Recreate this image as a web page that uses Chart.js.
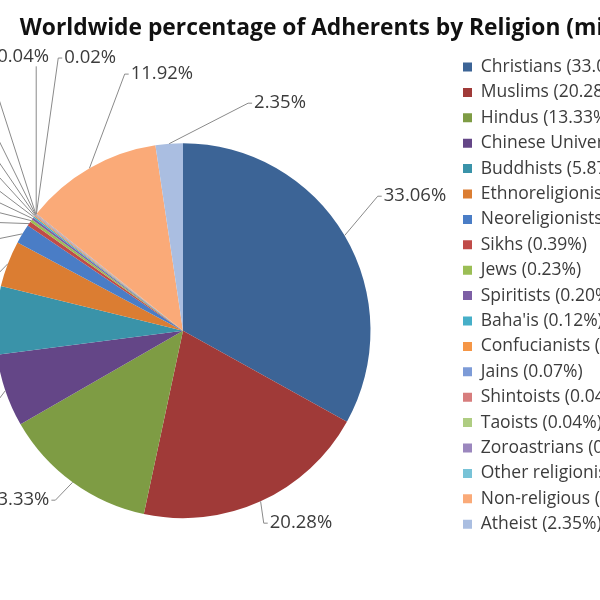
<!DOCTYPE html>
<html>
<head>
<meta charset="utf-8">
<title>Worldwide percentage of Adherents by Religion</title>
<script src="https://cdn.jsdelivr.net/npm/chart.js@4.4.1/dist/chart.umd.min.js"></script>
<style>
  html, body { margin: 0; padding: 0; background: #fff; width: 600px; height: 600px; overflow: hidden; }
  /* the reference is a crop of a wider chart, so the canvas is shifted left */
  #wrap { position: absolute; left: -150px; top: 0; }
</style>
</head>
<body>
<div id="wrap"><canvas id="chart" width="835" height="611"></canvas></div>
<script>
const religions = [
  'Christians', 'Muslims', 'Hindus', 'Chinese Universists', 'Buddhists',
  'Ethnoreligionists', 'Neoreligionists', 'Sikhs', 'Jews', 'Spiritists',
  "Baha'is", 'Confucianists', 'Jains', 'Shintoists', 'Taoists',
  'Zoroastrians', 'Other religionists', 'Non-religious', 'Atheist'
];

const shares = [
  33.06, 20.28, 13.33, 6.27, 5.87,
  3.97, 1.68, 0.39, 0.23, 0.20,
  0.12, 0.10, 0.07, 0.04, 0.04,
  0.04, 0.02, 11.92, 2.35
];

const sliceColors = [
  '#3c6496', '#a03a38', '#7e9c44', '#644687', '#3a93a9',
  '#db7d32', '#4a7dc6', '#c04b48', '#9bbe55', '#7d5fa5',
  '#46afc8', '#f59646', '#7d9bd7', '#d77d7d', '#afcd82',
  '#9b87be', '#78c3d7', '#faaa78', '#aabee1'
];

// where each data label sits: [degrees clockwise from 12 o'clock, distance in pie radii]
const labelSpots = [
  [59.9, 1.430], [148.5, 1.204], [224.2, 1.261], [249.7, 1.297], [272.5, 1.297],
  [281.3, 1.240], [292.1, 1.284], [295.9, 1.323], [298.2, 1.356], [300.5, 1.391],
  [303.1, 1.420], [305.9, 1.468], [308.7, 1.523], [312.5, 1.614], [318.6, 1.797],
  [329.7, 1.690], [341.2, 1.536], [355.3, 1.373], [23.1, 1.319]
];

const FONT = '"Open Sans", Lato, sans-serif';
const LABEL_SIZE = 18.5;

// Excel style outside labels with leader lines
const leaderLabels = {
  id: 'leaderLabels',
  afterDatasetsDraw(chart) {
    const ctx = chart.ctx;
    const arcs = chart.getDatasetMeta(0).data;
    ctx.save();
    ctx.font = LABEL_SIZE + 'px ' + FONT;
    ctx.lineWidth = 1;
    ctx.strokeStyle = '#8a8a8a';
    ctx.fillStyle = '#3c3c3c';
    ctx.textAlign = 'center';
    ctx.textBaseline = 'middle';

    arcs.forEach((arc, i) => {
      const { x, y, startAngle, endAngle, outerRadius } =
        arc.getProps(['x', 'y', 'startAngle', 'endAngle', 'outerRadius'], true);
      const mid = (startAngle + endAngle) / 2;
      const ex = x + outerRadius * Math.cos(mid);
      const ey = y + outerRadius * Math.sin(mid);

      const [deg, dist] = labelSpots[i];
      const a = (deg - 90) * Math.PI / 180;
      const cx = x + dist * outerRadius * Math.cos(a);
      const cy = y + dist * outerRadius * Math.sin(a);

      const text = shares[i].toFixed(2) + '%';
      const half = ctx.measureText(text).width / 2;
      const left = cx - half, right = cx + half;

      ctx.beginPath();
      ctx.moveTo(ex, ey);
      if (ex >= left && ex <= right) {
        ctx.lineTo(ex, ey > cy ? cy + LABEL_SIZE / 2 : cy - LABEL_SIZE / 2);
      } else if (cx > ex) {
        ctx.lineTo(left - 6, cy);
        ctx.lineTo(left - 2, cy);
      } else {
        ctx.lineTo(right + 6, cy);
        ctx.lineTo(right + 2, cy);
      }
      ctx.stroke();
      ctx.fillText(text, cx, cy);
    });
    ctx.restore();
  }
};

new Chart(document.getElementById('chart'), {
  type: 'pie',
  data: {
    labels: religions,
    datasets: [{
      data: shares,
      backgroundColor: sliceColors,
      borderWidth: 0,
      radius: 187.5
    }]
  },
  options: {
    responsive: false,
    animation: false,
    layout: { padding: { left: 60.9, right: 0, top: 0, bottom: 0 } },
    plugins: {
      title: {
        display: true,
        text: 'Worldwide percentage of Adherents by Religion (mid-2005)',
        align: 'end',
        color: '#111111',
        font: { family: FONT, size: 22.8, weight: 'bold' },
        padding: { top: 14.5, bottom: 8.5 }
      },
      legend: {
        position: 'right',
        align: 'start',
        fullSize: false,
        maxWidth: 229.9,
        labels: {
          color: '#3c3c3c',
          font: { family: FONT, size: 17.5 },
          boxWidth: 9,
          boxHeight: 9,
          padding: 7.9,
          generateLabels(chart) {
            return Chart.overrides.pie.plugins.legend.labels.generateLabels(chart)
              .map((item, i) => ({ ...item, text: religions[i] + ' (' + shares[i].toFixed(2) + '%)' }));
          }
        }
      },
      tooltip: { enabled: false }
    }
  },
  plugins: [leaderLabels]
});
</script>
</body>
</html>
